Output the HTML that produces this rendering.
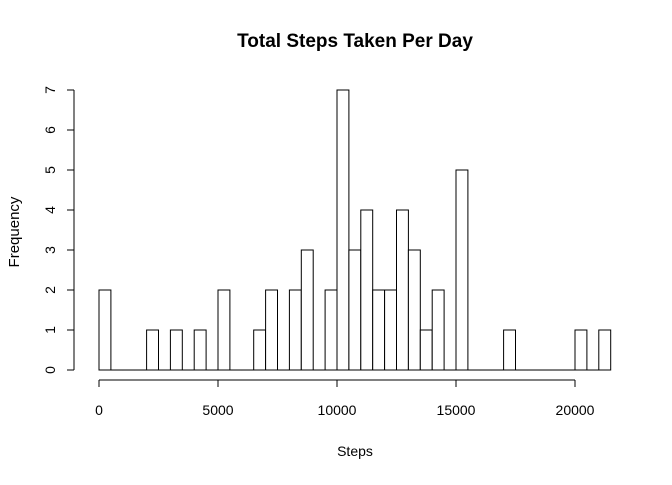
<!DOCTYPE html>
<html><head><meta charset="utf-8"><style>
body{margin:0;background:#fff}
text{font-family:"Liberation Sans",Arial,sans-serif;fill:#000}
</style></head><body>
<svg id="c" width="672" height="480" xmlns="http://www.w3.org/2000/svg">
<rect width="672" height="480" fill="#fff"/>
<text x="355" y="47" font-size="19" font-weight="bold" text-anchor="middle">Total Steps Taken Per Day</text>
<text x="355" y="456" font-size="14" text-anchor="middle">Steps</text>
<text x="19" y="232" font-size="15" text-anchor="middle" transform="rotate(-90 19 232)">Frequency</text>
<g id="bars"></g>
<g id="xaxis"></g>
<g id="yaxis"></g>
</svg>
<script>
const binWidth = 500;
const binStarts = [0,500,1000,1500,2000,2500,3000,3500,4000,4500,5000,5500,6000,6500,7000,7500,8000,8500,9000,9500,10000,10500,11000,11500,12000,12500,13000,13500,14000,14500,15000,15500,16000,16500,17000,17500,18000,18500,19000,19500,20000,20500,21000];
const counts = [2,0,0,0,1,0,1,0,1,0,2,0,0,1,2,0,2,3,0,2,7,3,4,2,2,4,3,1,2,0,5,0,0,0,1,0,0,0,0,0,1,0,1];
const xTicks = [0,5000,10000,15000,20000];
const yTicks = [0,1,2,3,4,5,6,7];
const NS="http://www.w3.org/2000/svg";
const sx = v => 99 + v*(476/20000);
const sy = v => 370 - v*40;
function mk(tag, attrs, parent){const e=document.createElementNS(NS,tag);for(const k in attrs)e.setAttribute(k,attrs[k]);parent.appendChild(e);return e;}
const bars=document.getElementById('bars');
binStarts.forEach((b,i)=>{
  const x0=sx(b), x1=sx(b+binWidth), y=sy(counts[i]);
  const r=mk('rect',{x:x0,y:y,width:x1-x0,height:Math.max(sy(0)-y,0.01),fill:'#fff',stroke:'#000','stroke-width':1},bars);
  
  
});
const xa=document.getElementById('xaxis');
mk('line',{x1:sx(xTicks[0]),x2:sx(xTicks[xTicks.length-1]),y1:380,y2:380,stroke:'#000'},xa);
xTicks.forEach(t=>{
  mk('line',{x1:sx(t),x2:sx(t),y1:380,y2:387,stroke:'#000'},xa);
  const tx=mk('text',{x:sx(t),y:415,'font-size':14,'text-anchor':'middle'},xa);
  tx.textContent=t;
  
  
});
const ya=document.getElementById('yaxis');
mk('line',{x1:74,x2:74,y1:sy(yTicks[0]),y2:sy(yTicks[yTicks.length-1]),stroke:'#000'},ya);
yTicks.forEach(t=>{
  mk('line',{x1:67,x2:74,y1:sy(t),y2:sy(t),stroke:'#000'},ya);
  const tx=mk('text',{x:55,y:sy(t),'font-size':14,'text-anchor':'middle',transform:`rotate(-90 55 ${sy(t)})`},ya);
  tx.textContent=t;
  
  
});
</script>
</body></html>
